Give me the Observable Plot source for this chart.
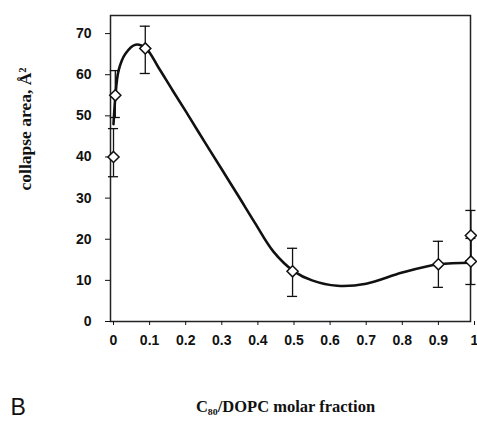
<!DOCTYPE html>
<html>
<head>
<meta charset="utf-8">
<script src="https://cdn.jsdelivr.net/npm/d3@7"></script>
<script src="https://cdn.jsdelivr.net/npm/@observablehq/plot@0.6"></script>
<style>
  html, body { margin: 0; padding: 0; background: #fff; }
  svg { display: block; }
</style>
</head>
<body>
<div id="chart"></div>
<script>
// Measured points (C80/DOPC molar fraction, collapse area)
const pointX  = [0, 0.005, 0.088, 0.496, 0.9, 0.99, 0.99];
const pointY  = [40, 55, 66.4, 12.2, 13.9, 14.6, 20.9];
const errLow  = [35.2, 49.6, 60.3, 6.1, 8.3, 9.0, 14.8];
const errHigh = [46.9, 61.0, 71.8, 17.8, 19.5, 20.2, 27.0];

// Smooth fitted curve
const curveX = [0, 0.005, 0.014, 0.033, 0.061, 0.09, 0.125, 0.163, 0.208, 0.255, 0.302, 0.346, 0.393, 0.443, 0.5, 0.55, 0.62, 0.7, 0.8, 0.9, 0.99];
const curveY = [48, 54.4, 61, 65.1, 67.3, 66.4, 61.7, 56.3, 50.0, 43.3, 36.7, 30.5, 23.8, 17.0, 12.2, 10.0, 8.7, 9.2, 11.9, 13.9, 14.3];

// Axis ticks
const xTicks = [0, 0.1, 0.2, 0.3, 0.4, 0.5, 0.6, 0.7, 0.8, 0.9, 1];
const yTicks = [0, 10, 20, 30, 40, 50, 60, 70];

const xLabel = "C₈₀/DOPC molar fraction";
const yLabel = "collapse area, Å²";
const panelLabel = "B";

const points = pointX.map((x, i) => ({x, y: pointY[i], lo: errLow[i], hi: errHigh[i]}));
const curve = curveX.map((x, i) => ({x, y: curveY[i]}));
const capHalf = 0.014;

const sans = "'Liberation Sans', Arial, sans-serif";
const serif = "'Liberation Serif', 'Times New Roman', serif";

const chart = Plot.plot({
  width: 477,
  height: 423,
  marginLeft: 110,
  marginRight: 7,
  marginTop: 15,
  marginBottom: 102,
  style: {background: "#fff", color: "#111"},
  x: {domain: [0, 1], range: [113, 474]},
  y: {domain: [0, 74.4], range: [321, 15]},
  marks: [
    Plot.frame({stroke: "#222", strokeWidth: 1.5}),
    Plot.axisX({
      ticks: xTicks, tickSize: 4, tickPadding: 10, label: null,
      tickFormat: d => String(+d.toFixed(1)),
      fontFamily: sans, fontWeight: "bold", fontSize: 14
    }),
    Plot.axisY({
      ticks: yTicks, tickSize: 5, tickPadding: 14, label: null,
      fontFamily: sans, fontWeight: "bold", fontSize: 14
    }),
    Plot.line(curve, {x: "x", y: "y", curve: "catmull-rom", stroke: "#111", strokeWidth: 2.6}),
    Plot.ruleX(points, {x: "x", y1: "lo", y2: "hi", stroke: "#111", strokeWidth: 1.3}),
    Plot.ruleY(points, {x1: d => d.x - capHalf, x2: d => d.x + capHalf, y: "lo", stroke: "#111", strokeWidth: 1.3}),
    Plot.ruleY(points, {x1: d => d.x - capHalf, x2: d => d.x + capHalf, y: "hi", stroke: "#111", strokeWidth: 1.3}),
    Plot.dot(points, {x: "x", y: "y", symbol: "diamond2", r: 5, fill: "#fff", stroke: "#111", strokeWidth: 1.5}),
    Plot.text([yLabel], {
      frameAnchor: "left", rotate: -90, dx: -85, dy: 22,
      fontFamily: serif, fontWeight: "bold", fontSize: 17.5, fill: "#111"
    }),
    Plot.text([xLabel], {
      frameAnchor: "bottom", dx: -5, dy: 90,
      fontFamily: serif, fontWeight: "bold", fontSize: 16.5, fill: "#111"
    }),
    Plot.text([panelLabel], {
      frameAnchor: "bottom-left", dx: -100, dy: 93, textAnchor: "start",
      fontFamily: sans, fontSize: 23, fill: "#111"
    })
  ]
});
document.getElementById("chart").appendChild(chart);
</script>
</body>
</html>
